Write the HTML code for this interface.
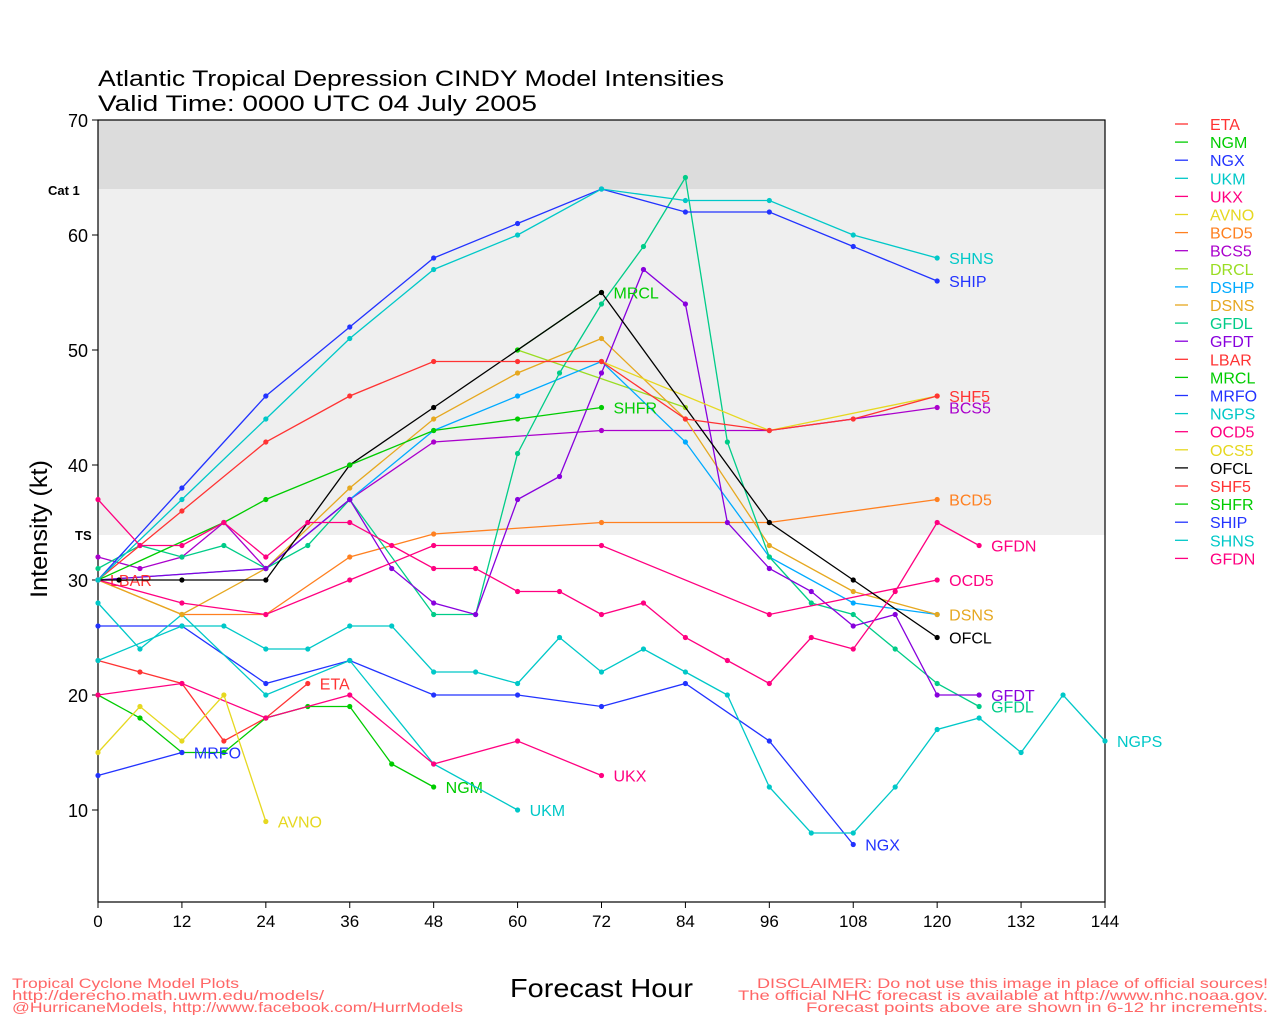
<!DOCTYPE html>
<html><head><meta charset="utf-8"><style>
body{margin:0;background:#fff;width:1280px;height:1024px;overflow:hidden;font-family:"Liberation Sans",sans-serif}
</style></head><body>
<svg id="s" width="1280" height="1024" xmlns="http://www.w3.org/2000/svg" font-family="Liberation Sans, sans-serif">
<rect x="98" y="120" width="1007" height="69" fill="#dcdcdc"/>
<rect x="98" y="189" width="1007" height="346" fill="#efefef"/>
<text x="98" y="86" font-size="22" textLength="626" lengthAdjust="spacingAndGlyphs">Atlantic Tropical Depression CINDY Model Intensities</text>
<text x="98" y="111" font-size="22" textLength="439" lengthAdjust="spacingAndGlyphs">Valid Time: 0000 UTC 04 July 2005</text>
<text x="48" y="195" font-size="13" font-weight="bold">Cat 1</text>
<text x="75" y="540" font-size="13" font-weight="bold">TS</text>
<text transform="translate(47,529) rotate(-90)" font-size="24" text-anchor="middle" textLength="138" lengthAdjust="spacingAndGlyphs">Intensity (kt)</text>
<text x="510" y="997" font-size="26" textLength="183" lengthAdjust="spacingAndGlyphs">Forecast Hour</text>
<g font-size="14" fill="#ff6666">
<text x="12" y="988" textLength="227" lengthAdjust="spacingAndGlyphs">Tropical Cyclone Model Plots</text>
<text x="12" y="1000" textLength="312" lengthAdjust="spacingAndGlyphs">http://derecho.math.uwm.edu/models/</text>
<text x="12" y="1012" textLength="451" lengthAdjust="spacingAndGlyphs">@HurricaneModels, http://www.facebook.com/HurrModels</text>
<text x="757" y="988" textLength="511" lengthAdjust="spacingAndGlyphs">DISCLAIMER: Do not use this image in place of official sources!</text>
<text x="738" y="1000" textLength="530" lengthAdjust="spacingAndGlyphs">The official NHC forecast is available at http://www.nhc.noaa.gov.</text>
<text x="806" y="1012" textLength="462" lengthAdjust="spacingAndGlyphs">Forecast points above are shown in 6-12 hr increments.</text>
</g>
<g id="ax"></g><g id="ser"></g><g id="leg"></g>
</svg>
<script>
var NS="http://www.w3.org/2000/svg";
function X(h){return 98+h*6.993}function Y(v){return 120+(70-v)*11.5}
function el(p,t,a,txt){var e=document.createElementNS(NS,t);for(var k in a)e.setAttribute(k,a[k]);if(txt!=null)e.textContent=txt;p.appendChild(e);return e}
var ax=document.getElementById('ax'),ser=document.getElementById('ser'),leg=document.getElementById('leg');
el(ax,'rect',{x:98,y:120,width:1007,height:782,fill:'none',stroke:'#000','stroke-width':1.2});
for(var v=10;v<=70;v+=10){el(ax,'line',{x1:92,x2:98,y1:Y(v),y2:Y(v),stroke:'#000'});el(ax,'text',{x:88,y:Y(v)+7,'font-size':18,'text-anchor':'end'},v)}
for(var h=0;h<=144;h+=12){el(ax,'line',{x1:X(h),x2:X(h),y1:902,y2:908,stroke:'#000'});el(ax,'text',{x:X(h),y:927,'font-size':17,'text-anchor':'middle'},h)}
var S=[
["ETA","#ff3333",[[0,23],[6,22],[12,21],[18,16],[24,18],[30,21]],1],
["NGM","#00cc00",[[0,20],[6,18],[12,15],[18,15],[24,18],[30,19],[36,19],[42,14],[48,12]],1],
["NGX","#2233ff",[[0,26],[12,26],[24,21],[36,23],[48,20],[60,20],[72,19],[84,21],[96,16],[108,7]],1],
["UKM","#00c8c8",[[0,28],[6,24],[12,27],[24,20],[36,23],[48,14],[60,10]],1],
["UKX","#ff0080",[[0,20],[12,21],[24,18],[36,20],[48,14],[60,16],[72,13]],1],
["AVNO","#e6d820",[[0,15],[6,19],[12,16],[18,20],[24,9]],1],
["BCD5","#ff8020",[[0,30],[12,27],[24,27],[36,32],[48,34],[72,35],[96,35],[120,37]],1],
["BCS5","#aa00cc",[[0,32],[6,31],[12,32],[18,35],[24,31],[36,37],[48,42],[72,43],[96,43],[120,45]],1],
["DRCL","#99dd22",[[60,50],[84,45]],0],
["DSHP","#00aaff",[[0,30],[24,31],[36,37],[48,43],[60,46],[72,49],[84,42],[96,32],[108,28],[120,27]],0],
["DSNS","#e6a820",[[0,30],[12,27],[24,31],[36,38],[48,44],[60,48],[72,51],[84,44],[96,33],[108,29],[120,27]],1],
["GFDL","#00cc88",[[0,31],[6,33],[12,32],[18,33],[24,31],[30,33],[36,37],[48,27],[54,27],[60,41],[66,48],[72,54],[78,59],[84,65],[90,42],[96,32],[102,28],[108,27],[114,24],[120,21],[126,19]],1],
["GFDT","#8800dd",[[0,30],[24,31],[36,37],[42,31],[48,28],[54,27],[60,37],[66,39],[72,48],[78,57],[84,54],[90,35],[96,31],[102,29],[108,26],[114,27],[120,20],[126,20]],1],
["LBAR","#ff3333",[[0,30]],1],
["MRCL","#00cc00",[[60,50],[72,55]],1],
["MRFO","#2233ff",[[0,13],[12,15]],1],
["NGPS","#00c8c8",[[0,23],[12,26],[18,26],[24,24],[30,24],[36,26],[42,26],[48,22],[54,22],[60,21],[66,25],[72,22],[78,24],[84,22],[90,20],[96,12],[102,8],[108,8],[114,12],[120,17],[126,18],[132,15],[138,20],[144,16]],1],
["OCD5","#ff0080",[[0,30],[12,28],[24,27],[36,30],[48,33],[72,33],[96,27],[120,30]],1],
["OCS5","#e6d820",[[72,49],[96,43],[120,46]],0],
["OFCL","#000000",[[0,30],[3,30],[12,30],[24,30],[36,40],[48,45],[72,55],[96,35],[108,30],[120,25]],1],
["SHF5","#ff3333",[[0,30],[12,36],[24,42],[36,46],[48,49],[60,49],[72,49],[84,44],[96,43],[108,44],[120,46]],1],
["SHFR","#00cc00",[[0,30],[18,35],[24,37],[36,40],[48,43],[60,44],[72,45]],1],
["SHIP","#2233ff",[[0,30],[12,38],[24,46],[36,52],[48,58],[60,61],[72,64],[84,62],[96,62],[108,59],[120,56]],1],
["SHNS","#00c8c8",[[0,30],[12,37],[24,44],[36,51],[48,57],[60,60],[72,64],[84,63],[96,63],[108,60],[120,58]],1],
["GFDN","#ff0080",[[0,37],[6,33],[12,33],[18,35],[24,32],[30,35],[36,35],[42,33],[48,31],[54,31],[60,29],[66,29],[72,27],[78,28],[84,25],[90,23],[96,21],[102,25],[108,24],[114,29],[120,35],[126,33]],1]
];
S.forEach(function(s,i){
 var p=s[2];
 if(p.length>1)el(ser,'polyline',{points:p.map(function(q){return X(q[0])+','+Y(q[1])}).join(' '),fill:'none',stroke:s[1],'stroke-width':1.3});
 p.forEach(function(q){el(ser,'circle',{cx:X(q[0]),cy:Y(q[1]),r:2.6,fill:s[1]})});
 if(s[3]){var l=p[p.length-1];el(ser,'text',{x:X(l[0])+12,y:Y(l[1])+6,'font-size':16,fill:s[1]},s[0])}
 var y=124+i*18.1;
 el(leg,'line',{x1:1175,x2:1188,y1:y,y2:y,stroke:s[1],'stroke-width':1.3});
 el(leg,'text',{x:1210,y:y+6,'font-size':16,fill:s[1]},s[0]);
});
</script>
</body></html>
